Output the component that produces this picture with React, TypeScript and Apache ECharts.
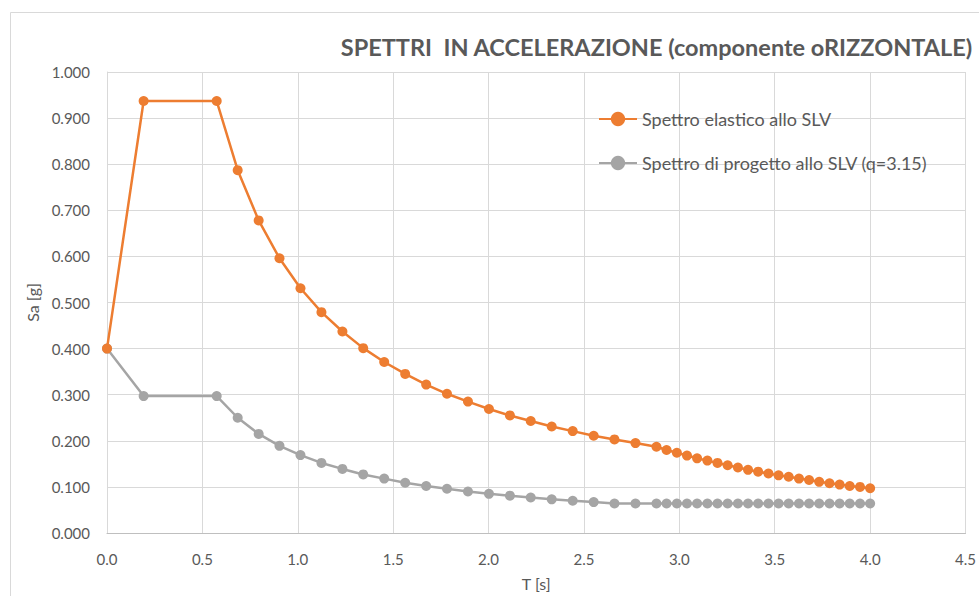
import React, { useEffect, useRef } from "react";
import * as echarts from "echarts";

const periods = [
  0, 0.192, 0.575,
  0.685, 0.795, 0.904, 1.014, 1.124, 1.234, 1.343, 1.453, 1.563, 1.673,
  1.782, 1.892, 2.002, 2.112, 2.221, 2.331, 2.441, 2.551, 2.66, 2.77, 2.88,
  2.933, 2.987, 3.04, 3.093, 3.147, 3.2, 3.253, 3.307, 3.36, 3.413, 3.467,
  3.52, 3.573, 3.627, 3.68, 3.733, 3.787, 3.84, 3.893, 3.947, 4.0,
];

const elastic = [
  0.4, 0.937, 0.937,
  0.787, 0.678, 0.596, 0.531, 0.479, 0.437, 0.401, 0.371, 0.345, 0.322,
  0.302, 0.285, 0.269, 0.255, 0.243, 0.231, 0.221, 0.211, 0.203, 0.195, 0.187,
  0.18, 0.174, 0.168, 0.162, 0.157, 0.152, 0.147, 0.142, 0.137, 0.133, 0.129,
  0.125, 0.122, 0.118, 0.115, 0.111, 0.108, 0.105, 0.102, 0.1, 0.097,
];

const design = [
  0.4, 0.297, 0.297,
  0.25, 0.215, 0.189, 0.169, 0.152, 0.139, 0.127, 0.118, 0.109, 0.102,
  0.096, 0.09, 0.085, 0.081, 0.077, 0.073, 0.07, 0.067, 0.064, 0.064, 0.064,
  0.064, 0.064, 0.064, 0.064, 0.064, 0.064, 0.064, 0.064, 0.064, 0.064, 0.064,
  0.064, 0.064, 0.064, 0.064, 0.064, 0.064, 0.064, 0.064, 0.064, 0.064,
];

const seriesNames = [
  "Spettro elastico allo SLV",
  "Spettro di progetto allo SLV (q=3.15)",
];

const titleText = "SPETTRI  IN ACCELERAZIONE (componente oRIZZONTALE)";
const xAxisName = "T [s]";
const yAxisName = "Sa [g]";

const FONT = "Lato, 'Open Sans', sans-serif";
const TEXT_COLOR = "#595959";

export default function App() {
  const ref = useRef<HTMLDivElement>(null);

  useEffect(() => {
    if (!ref.current) return;
    const chart = echarts.init(ref.current, undefined, { renderer: "svg" });
    const pairs = (ys: number[]) => periods.map((t, i) => [t, ys[i]]);
    chart.setOption({
      animation: false,
      backgroundColor: "#ffffff",
      textStyle: { fontFamily: FONT },
      title: {
        text: titleText,
        right: 6,
        top: 35,
        padding: 0,
        textStyle: {
          fontFamily: FONT,
          fontSize: 23.5,
          fontWeight: "bold",
          color: TEXT_COLOR,
        },
      },
      graphic: [
        {
          type: "rect",
          shape: { x: 10.5, y: 12.5, width: 1100, height: 1000 },
          style: { fill: "none", stroke: "#d9d9d9", lineWidth: 1 },
          silent: true,
          z: -10,
        },
      ],
      legend: {
        orient: "vertical",
        left: 598,
        top: 110,
        padding: 0,
        itemWidth: 38,
        itemHeight: 18,
        itemGap: 26,
        textStyle: { fontFamily: FONT, fontSize: 18, color: TEXT_COLOR },
        data: seriesNames,
      },
      grid: { left: 107, right: 12, top: 72, bottom: 57 },
      xAxis: {
        type: "value",
        min: 0,
        max: 4.5,
        interval: 0.5,
        name: xAxisName,
        nameLocation: "middle",
        nameGap: 42,
        nameTextStyle: { fontFamily: FONT, fontSize: 16, color: TEXT_COLOR },
        axisLine: { show: true, lineStyle: { color: "#bfbfbf", width: 1 } },
        axisTick: { show: false },
        splitLine: { show: true, lineStyle: { color: "#d9d9d9", width: 1 } },
        axisLabel: {
          margin: 18,
          fontFamily: FONT,
          fontSize: 15,
          color: TEXT_COLOR,
          formatter: (v: number) => v.toFixed(1),
        },
      },
      yAxis: {
        type: "value",
        min: 0,
        max: 1,
        interval: 0.1,
        name: yAxisName,
        nameLocation: "middle",
        nameRotate: 90,
        nameGap: 62,
        nameTextStyle: { fontFamily: FONT, fontSize: 16, color: TEXT_COLOR },
        axisLine: { show: true, lineStyle: { color: "#d9d9d9", width: 1 } },
        axisTick: { show: false },
        splitLine: { show: true, lineStyle: { color: "#d9d9d9", width: 1 } },
        axisLabel: {
          margin: 17,
          fontFamily: FONT,
          fontSize: 15,
          color: TEXT_COLOR,
          formatter: (v: number) => v.toFixed(3),
        },
      },
      series: [
        {
          name: seriesNames[0],
          type: "line",
          data: pairs(elastic),
          symbol: "circle",
          symbolSize: 10,
          itemStyle: { color: "#ED7D31" },
          lineStyle: { color: "#ED7D31", width: 2.5 },
          z: 3,
        },
        {
          name: seriesNames[1],
          type: "line",
          data: pairs(design),
          symbol: "circle",
          symbolSize: 10,
          itemStyle: { color: "#A5A5A5" },
          lineStyle: { color: "#A5A5A5", width: 2.5 },
          z: 2,
        },
      ],
    });
    return () => chart.dispose();
  }, []);

  return (
    <div
      ref={ref}
      style={{ position: "fixed", left: 0, top: 0, width: 979, height: 596 }}
    />
  );
}
